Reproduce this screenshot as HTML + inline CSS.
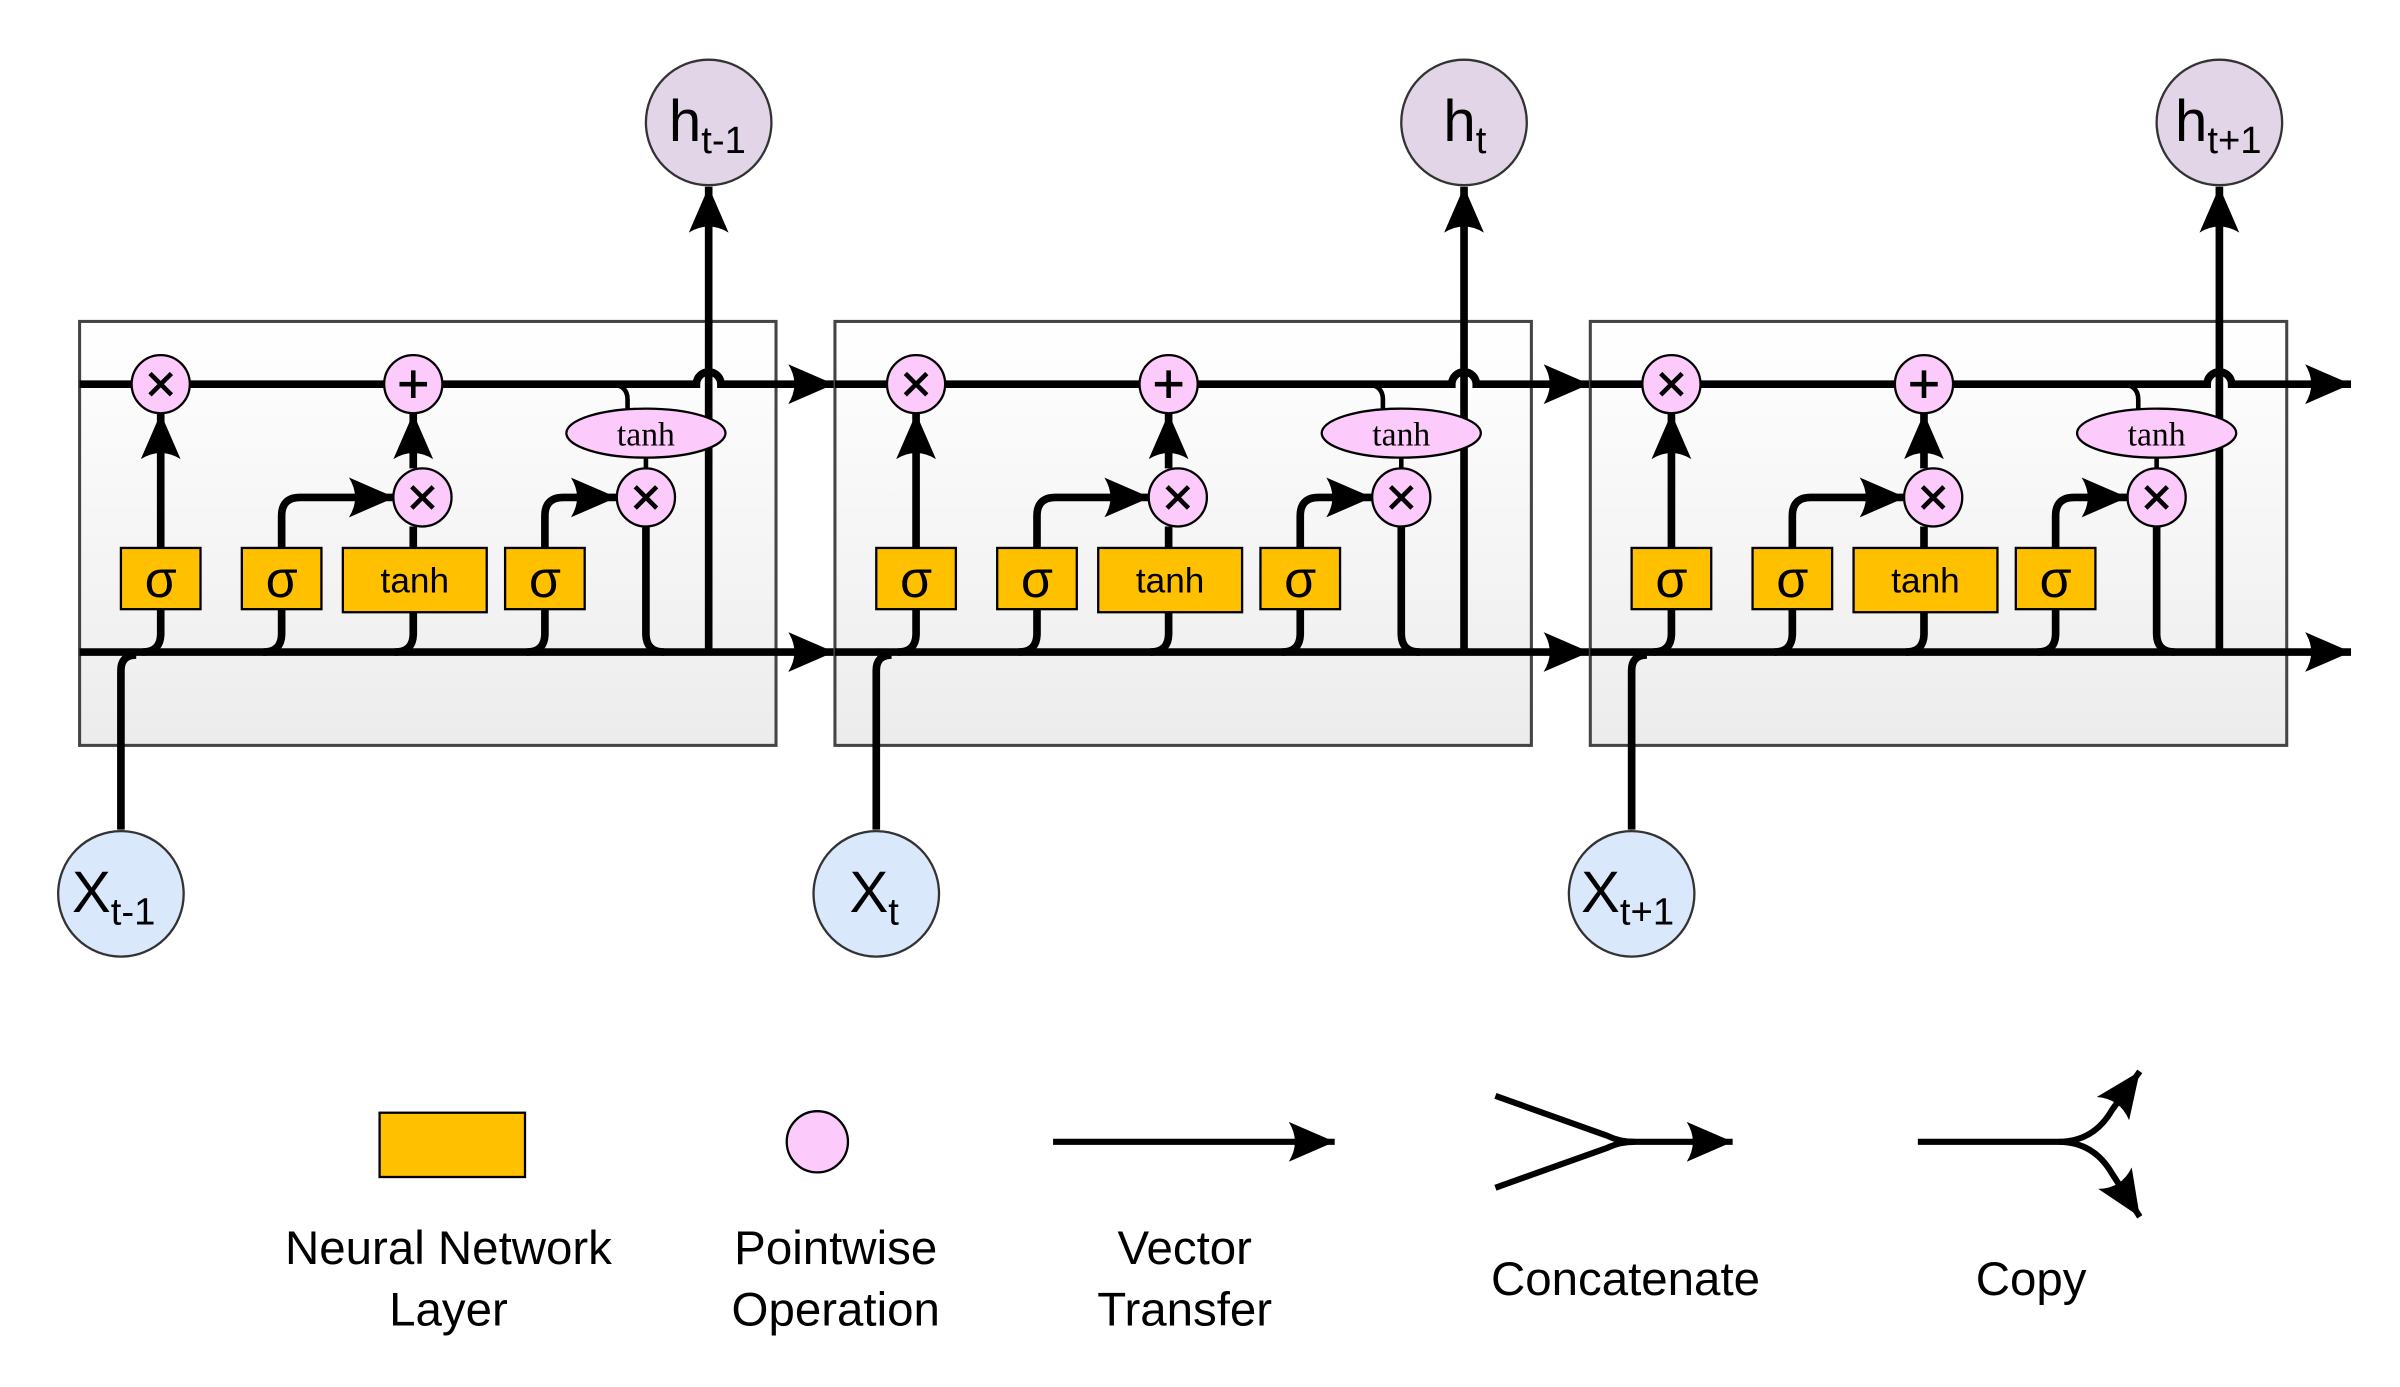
<!DOCTYPE html>
<html><head><meta charset="utf-8"><style>html,body{margin:0;padding:0;background:#fff}svg{display:block}</style></head>
<body>
<svg width="2400" height="1387" viewBox="0 0 1568 906.2" preserveAspectRatio="none" xmlns="http://www.w3.org/2000/svg" font-family="Liberation Sans, sans-serif">
<defs>
<linearGradient id="g" x1="0" y1="0" x2="0" y2="1"><stop offset="0" stop-color="#ffffff"/><stop offset="1" stop-color="#ececec"/></linearGradient>
<marker id="a" markerUnits="userSpaceOnUse" markerWidth="32" markerHeight="28" refX="30" refY="13" orient="auto"><path d="M0,0 L30,13 L0,26 Q8,13 0,0Z" fill="#000"/></marker>
</defs>
<g id="c1">
<rect x="52" y="210" width="455" height="277" fill="url(#g)" stroke="#444" stroke-width="2"/>
<g stroke="#000" stroke-width="5" fill="none">
<path d="M52,251 H455 A8,8 0 0 1 471,251 H545" marker-end="url(#a)"/>
<path d="M398,251 Q410,251 410,261 V268" stroke-width="3"/>
<path d="M52,426 H545" marker-end="url(#a)"/>
<path d="M79,542 V438 Q79,428 89,428"/>
<path d="M105,398 V414 Q105,426 93,426"/>
<path d="M184,398 V414 Q184,426 172,426"/>
<path d="M270,400 V414 Q270,426 258,426"/>
<path d="M356,398 V414 Q356,426 344,426"/>
<path d="M422,344 V414 Q422,426 434,426"/>
<path d="M463,426 V122" marker-end="url(#a)"/>
<path d="M105,358 V270" marker-end="url(#a)"/>
<path d="M184,358 V337 Q184,325 196,325 H258" marker-end="url(#a)"/>
<path d="M270,358 V344"/>
<path d="M270,306 V270" marker-end="url(#a)"/>
<path d="M356,358 V337 Q356,325 368,325 H403" marker-end="url(#a)"/>
<path d="M422,299 V306" stroke-width="3"/>
</g>
<g stroke="#000" stroke-width="1.5" fill="#fccbfc">
<ellipse cx="105" cy="251" rx="19" ry="19"/><ellipse cx="270" cy="251" rx="19" ry="19"/><ellipse cx="276" cy="325" rx="19" ry="19"/><ellipse cx="422" cy="325" rx="19" ry="19"/><ellipse cx="422" cy="283" rx="52" ry="16"/>
</g>
<g stroke="#000" stroke-width="1.5" fill="#ffc000">
<rect x="79" y="358" width="52" height="40"/><rect x="158" y="358" width="52" height="40"/><rect x="224" y="358" width="94" height="42"/><rect x="330" y="358" width="52" height="40"/>
</g>
<g stroke="#000" stroke-width="3">
<path d="M98,244 L112,258 M112,244 L98,258"/><path d="M270,242 V260 M261,251 H279"/><path d="M269,318 L283,332 M283,318 L269,332"/><path d="M415,318 L429,332 M429,318 L415,332"/>
</g>
<g font-size="34" text-anchor="middle"><text x="105" y="390">σ</text><text x="184" y="390">σ</text><text x="356" y="390">σ</text></g>
<text x="271" y="387" font-size="23" text-anchor="middle">tanh</text>
<text x="422" y="291" font-size="22" text-anchor="middle" font-family="Liberation Serif, serif">tanh</text>
</g>
<g transform="translate(493.5,0)">
<rect x="52" y="210" width="455" height="277" fill="url(#g)" stroke="#444" stroke-width="2"/>
<g stroke="#000" stroke-width="5" fill="none">
<path d="M52,251 H455 A8,8 0 0 1 471,251 H545" marker-end="url(#a)"/>
<path d="M398,251 Q410,251 410,261 V268" stroke-width="3"/>
<path d="M52,426 H545" marker-end="url(#a)"/>
<path d="M79,542 V438 Q79,428 89,428"/>
<path d="M105,398 V414 Q105,426 93,426"/>
<path d="M184,398 V414 Q184,426 172,426"/>
<path d="M270,400 V414 Q270,426 258,426"/>
<path d="M356,398 V414 Q356,426 344,426"/>
<path d="M422,344 V414 Q422,426 434,426"/>
<path d="M463,426 V122" marker-end="url(#a)"/>
<path d="M105,358 V270" marker-end="url(#a)"/>
<path d="M184,358 V337 Q184,325 196,325 H258" marker-end="url(#a)"/>
<path d="M270,358 V344"/>
<path d="M270,306 V270" marker-end="url(#a)"/>
<path d="M356,358 V337 Q356,325 368,325 H403" marker-end="url(#a)"/>
<path d="M422,299 V306" stroke-width="3"/>
</g>
<g stroke="#000" stroke-width="1.5" fill="#fccbfc">
<ellipse cx="105" cy="251" rx="19" ry="19"/><ellipse cx="270" cy="251" rx="19" ry="19"/><ellipse cx="276" cy="325" rx="19" ry="19"/><ellipse cx="422" cy="325" rx="19" ry="19"/><ellipse cx="422" cy="283" rx="52" ry="16"/>
</g>
<g stroke="#000" stroke-width="1.5" fill="#ffc000">
<rect x="79" y="358" width="52" height="40"/><rect x="158" y="358" width="52" height="40"/><rect x="224" y="358" width="94" height="42"/><rect x="330" y="358" width="52" height="40"/>
</g>
<g stroke="#000" stroke-width="3">
<path d="M98,244 L112,258 M112,244 L98,258"/><path d="M270,242 V260 M261,251 H279"/><path d="M269,318 L283,332 M283,318 L269,332"/><path d="M415,318 L429,332 M429,318 L415,332"/>
</g>
<g font-size="34" text-anchor="middle"><text x="105" y="390">σ</text><text x="184" y="390">σ</text><text x="356" y="390">σ</text></g>
<text x="271" y="387" font-size="23" text-anchor="middle">tanh</text>
<text x="422" y="291" font-size="22" text-anchor="middle" font-family="Liberation Serif, serif">tanh</text>
</g>
<g transform="translate(987,0)">
<rect x="52" y="210" width="455" height="277" fill="url(#g)" stroke="#444" stroke-width="2"/>
<g stroke="#000" stroke-width="5" fill="none">
<path d="M52,251 H455 A8,8 0 0 1 471,251 H549" marker-end="url(#a)"/>
<path d="M398,251 Q410,251 410,261 V268" stroke-width="3"/>
<path d="M52,426 H549" marker-end="url(#a)"/>
<path d="M79,542 V438 Q79,428 89,428"/>
<path d="M105,398 V414 Q105,426 93,426"/>
<path d="M184,398 V414 Q184,426 172,426"/>
<path d="M270,400 V414 Q270,426 258,426"/>
<path d="M356,398 V414 Q356,426 344,426"/>
<path d="M422,344 V414 Q422,426 434,426"/>
<path d="M463,426 V122" marker-end="url(#a)"/>
<path d="M105,358 V270" marker-end="url(#a)"/>
<path d="M184,358 V337 Q184,325 196,325 H258" marker-end="url(#a)"/>
<path d="M270,358 V344"/>
<path d="M270,306 V270" marker-end="url(#a)"/>
<path d="M356,358 V337 Q356,325 368,325 H403" marker-end="url(#a)"/>
<path d="M422,299 V306" stroke-width="3"/>
</g>
<g stroke="#000" stroke-width="1.5" fill="#fccbfc">
<ellipse cx="105" cy="251" rx="19" ry="19"/><ellipse cx="270" cy="251" rx="19" ry="19"/><ellipse cx="276" cy="325" rx="19" ry="19"/><ellipse cx="422" cy="325" rx="19" ry="19"/><ellipse cx="422" cy="283" rx="52" ry="16"/>
</g>
<g stroke="#000" stroke-width="1.5" fill="#ffc000">
<rect x="79" y="358" width="52" height="40"/><rect x="158" y="358" width="52" height="40"/><rect x="224" y="358" width="94" height="42"/><rect x="330" y="358" width="52" height="40"/>
</g>
<g stroke="#000" stroke-width="3">
<path d="M98,244 L112,258 M112,244 L98,258"/><path d="M270,242 V260 M261,251 H279"/><path d="M269,318 L283,332 M283,318 L269,332"/><path d="M415,318 L429,332 M429,318 L415,332"/>
</g>
<g font-size="34" text-anchor="middle"><text x="105" y="390">σ</text><text x="184" y="390">σ</text><text x="356" y="390">σ</text></g>
<text x="271" y="387" font-size="23" text-anchor="middle">tanh</text>
<text x="422" y="291" font-size="22" text-anchor="middle" font-family="Liberation Serif, serif">tanh</text>
</g>
<g stroke="#333" stroke-width="1.5" fill="#e1d5e7">
<circle cx="463" cy="80" r="41"/><circle cx="956.5" cy="80" r="41"/><circle cx="1450" cy="80" r="41"/>
</g>
<g stroke="#333" stroke-width="1.5" fill="#dae8fc">
<circle cx="79" cy="584" r="41"/><circle cx="572.5" cy="584" r="41"/><circle cx="1066" cy="584" r="41"/>
</g>
<g font-size="38" fill="#000">
<text x="437" y="92">h<tspan font-size="25" dy="8">t-1</tspan></text>
<text x="943" y="92">h<tspan font-size="25" dy="8">t</tspan></text>
<text x="1421" y="92">h<tspan font-size="25" dy="8">t+1</tspan></text>
<text x="47" y="596">X<tspan font-size="25" dy="8">t-1</tspan></text>
<text x="555" y="596">X<tspan font-size="25" dy="8">t</tspan></text>
<text x="1033" y="596">X<tspan font-size="25" dy="8">t+1</tspan></text>
</g>
<rect x="248" y="727" width="95" height="42" fill="#ffc000" stroke="#000" stroke-width="1.5"/>
<circle cx="534" cy="746" r="20" fill="#fccbfc" stroke="#000" stroke-width="1.5"/>
<g stroke="#000" stroke-width="4" fill="none">
<path d="M688,746 H872" marker-end="url(#a)"/>
<path d="M977,716 L1050,742 Q1058,746 1068,746 M977,776 L1050,750 Q1058,746 1068,746"/>
<path d="M1060,746 H1132" marker-end="url(#a)"/>
<path d="M1253,746 H1345 Q1368,746 1380,725 L1398,700" marker-end="url(#a)"/>
<path d="M1345,746 Q1368,746 1380,767 L1398,795" marker-end="url(#a)"/>
</g>
<g font-size="31" text-anchor="middle" fill="#000">
<text x="293" y="826">Neural Network</text><text x="293" y="866">Layer</text>
<text x="546" y="826">Pointwise</text><text x="546" y="866">Operation</text>
<text x="774" y="826">Vector</text><text x="774" y="866">Transfer</text>
<text x="1062" y="846">Concatenate</text>
<text x="1327" y="846">Copy</text>
</g>
</svg>
</body></html>
